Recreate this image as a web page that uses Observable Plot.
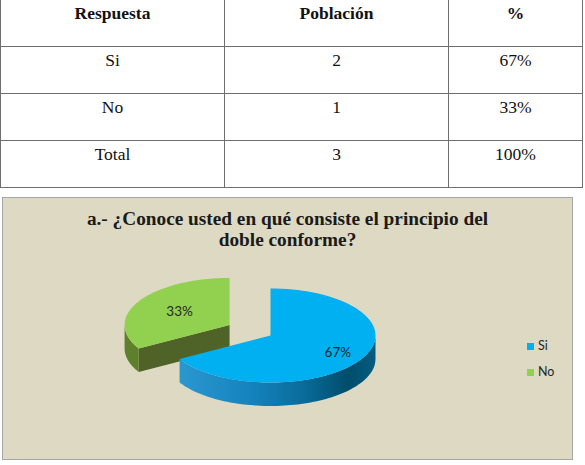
<!DOCTYPE html>
<html>
<head>
<meta charset="utf-8">
<script src="https://cdn.jsdelivr.net/npm/d3@7"></script>
<script src="https://cdn.jsdelivr.net/npm/@observablehq/plot@0.6"></script>
<style>
  html, body { margin: 0; padding: 0; background: #ffffff; }
  body { width: 585px; height: 465px; overflow: hidden; position: relative; font-family: "Liberation Serif", "Times New Roman", serif; }
  #tbl { position: absolute; left: 0; top: -1px; border-collapse: collapse; table-layout: fixed; width: 582px; }
  #tbl td, #tbl th { border: 1px solid #6f6f6f; height: 43px; padding: 3px 0 0 0; vertical-align: top; text-align: center; font-size: 17.5px; line-height: 20px; color: #111; }
  #tbl th { font-weight: bold; }
  #box { position: absolute; left: 2px; top: 197px; width: 571px; height: 263px; box-sizing: border-box; border: 1px solid #a6a6a6; background: #ddd9c3; }
  #title { position: absolute; left: 0; top: 11px; width: 569px; text-align: center; font-family: "Liberation Serif", serif; font-weight: bold; font-size: 19.3px; line-height: 20.5px; color: #1a1a1a; }
  #pie { position: absolute; left: 0; top: 0; }
  #legend { position: absolute; left: 524px; top: 141px; font-family: Lato, "Open Sans", sans-serif; font-size: 12.5px; color: #262626; }
  #legend .item { height: 26px; line-height: 14px; white-space: nowrap; }
  #legend .sw { display: inline-block; width: 7px; height: 7px; margin-right: 4px; vertical-align: 0px; }
</style>
</head>
<body>
<table id="tbl"></table>
<div id="box">
  <div id="title"></div>
  <div id="pie"></div>
  <div id="legend"></div>
</div>
<script>
// ---- data ----
const headers = ["Respuesta", "Población", "%"];
const categories = ["Si", "No"];
const poblacion = [2, 1];
const porcentajes = ["67%", "33%"];
const totalLabel = "Total";
const totalPoblacion = 3;
const totalPorcentaje = "100%";
const chartTitle = ["a.- ¿Conoce usted en qué consiste el principio del", "doble conforme?"];

// ---- styles ----
const topColors = ["#00b0f0", "#92d050"];
const wallColors = ["url(#blueWall)", "#5e7f2c"];
const cutColors = ["#0a6f9f", "#4f6228"];
const explodeBy = [0, 0.45];
const labelRadius = [0.74, 0.55];

// ---- table ----
const tbl = document.getElementById("tbl");
const cg = document.createElement("colgroup");
[224, 224, 134].forEach(w => { const c = document.createElement("col"); c.style.width = w + "px"; cg.appendChild(c); });
tbl.appendChild(cg);
const hr = document.createElement("tr");
headers.forEach(h => { const th = document.createElement("th"); th.textContent = h; hr.appendChild(th); });
tbl.appendChild(hr);
const rows = categories.map((c, i) => [c, poblacion[i], porcentajes[i]]).concat([[totalLabel, totalPoblacion, totalPorcentaje]]);
rows.forEach(r => {
  const tr = document.createElement("tr");
  r.forEach(v => { const td = document.createElement("td"); td.textContent = v; tr.appendChild(td); });
  tbl.appendChild(tr);
});

// ---- title ----
document.getElementById("title").innerHTML = chartTitle.join("<br>");

// ---- legend ----
const lg = document.getElementById("legend");
categories.forEach((c, i) => {
  const it = document.createElement("div"); it.className = "item";
  const sw = document.createElement("span"); sw.className = "sw"; sw.style.background = topColors[i];
  it.appendChild(sw); it.appendChild(document.createTextNode(c));
  lg.appendChild(it);
});

// ---- 3D pie geometry (unit ellipse space, scaled by Plot x/y scales) ----
const D = 0.5;           // thickness in y units
const N = 80;
const arcs = d3.pie().sort(null).value(d => d)(poblacion);
const polys = [];
const labels = [];
arcs.forEach((a, i) => {
  const s = a.startAngle, e = a.endAngle, m = (s + e) / 2;
  const ox = explodeBy[i] * Math.sin(m), oy = explodeBy[i] * Math.cos(m);
  const P = (t, dz = 0) => ({x: ox + Math.sin(t), y: oy + Math.cos(t) - dz});
  const arcPts = (t0, t1, dz = 0) => d3.range(N + 1).map(k => P(t0 + (t1 - t0) * k / N, dz));
  const depthKey = -Math.cos(m);
  [[s, s - Math.PI / 2], [e, e + Math.PI / 2]].forEach(([t, nrm], j) => {
    if (Math.cos(nrm) < -1e-6) {
      polys.push({key: depthKey, layer: 0, fill: cutColors[i],
        pts: [{x: ox, y: oy}, P(t), P(t, D), {x: ox, y: oy - D}]});
    }
  });
  const lo = Math.max(s, Math.PI / 2), hi = Math.min(e, 3 * Math.PI / 2);
  if (hi > lo) {
    polys.push({key: depthKey, layer: 0, fill: wallColors[i],
      pts: arcPts(lo, hi).concat(arcPts(hi, lo, D))});
  }
  polys.push({key: depthKey, layer: 1, fill: topColors[i],
    pts: [{x: ox, y: oy}].concat(arcPts(s, e))});
  const k = labelRadius[i];
  labels.push({x: ox + k * Math.sin(m), y: oy + k * Math.cos(m), text: porcentajes[i]});
});
polys.sort((p, q) => (p.key - q.key) || (p.layer - q.layer));

const defs = () => {
  const ns = "http://www.w3.org/2000/svg";
  const g = document.createElementNS(ns, "defs");
  g.innerHTML = `<linearGradient id="blueWall" x1="0" x2="1" y1="0" y2="0">
    <stop offset="0" stop-color="#2b97cf"/>
    <stop offset="0.35" stop-color="#1584bf"/>
    <stop offset="0.62" stop-color="#0a6d9d"/>
    <stop offset="0.86" stop-color="#004d6b"/>
    <stop offset="1" stop-color="#065c80"/>
  </linearGradient>`;
  return g;
};

const cx = 267, cy = 137, rx = 105, ry = 47;
const chart = Plot.plot({
  width: 569,
  height: 261,
  margin: 0,
  axis: null,
  x: {domain: [-1, 1], range: [cx - rx, cx + rx]},
  y: {domain: [-1, 1], range: [cy + ry, cy - ry]},
  style: {background: "transparent", overflow: "visible"},
  marks: [
    defs,
    ...polys.map(p => Plot.line(p.pts, {x: "x", y: "y", fill: p.fill, stroke: "none", curve: "linear"})),
    Plot.text(labels, {x: "x", y: "y", text: "text", fill: "#262626", fontSize: 13.5, fontFamily: "Lato, 'Open Sans', sans-serif"})
  ]
});
document.getElementById("pie").appendChild(chart);
</script>
</body>
</html>
